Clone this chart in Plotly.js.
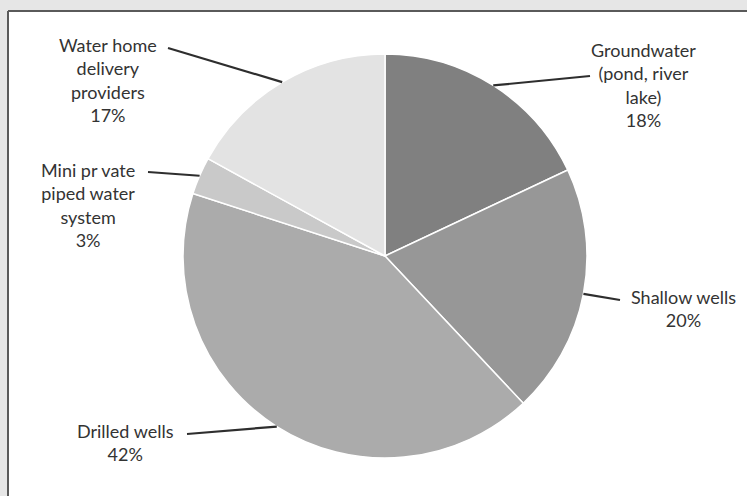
<!DOCTYPE html>
<html>
<head>
<meta charset="utf-8">
<script src="https://cdn.plot.ly/plotly-3.0.1.min.js"></script>
<style>html,body{margin:0;padding:0;background:#fff;overflow:hidden;}#chart{width:747px;height:496px;overflow:hidden;}</style>
</head>
<body>
<div id="chart"></div>
<script>
// ---- data ----
var categories = [
  "Groundwater (pond, river lake)",
  "Shallow wells",
  "Drilled wells",
  "Mini private piped water system",
  "Water home delivery providers"
];
var labelTexts = [
  "Groundwater<br>(pond, river<br>lake)",
  "Shallow wells",
  "Drilled wells",
  "Mini pr vate<br>piped water<br>system",
  "Water home<br>delivery<br>providers"
];
var shares = [18, 20, 42, 3, 17];
var sliceColors = ["#808080", "#979797", "#ababab", "#c9c9c9", "#e3e3e3"];

// ---- layout geometry (pixels) ----
var W = 747, H = 496;
var cx = 385, cy = 256, R = 202;
// label block centres and leader-line start points
var labelPos = [
  {x: 643, y: 85, lx: 590, ly: 76},
  {x: 683, y: 308, lx: 620, ly: 300},
  {x: 125, y: 442, lx: 187, ly: 434},
  {x: 88,  y: 205, lx: 148, ly: 172},
  {x: 108, y: 80,  lx: 168, ly: 48}
];

function px(x){ return x / W; }
function py(y){ return 1 - y / H; }

var total = shares.reduce(function(a,b){return a+b;}, 0);

var trace = {
  type: "pie",
  values: shares,
  labels: categories,
  sort: false,
  direction: "clockwise",
  rotation: 0,
  textinfo: "none",
  hoverinfo: "label+percent",
  marker: {colors: sliceColors, line: {color: "#ffffff", width: 1.5}},
  domain: {x: [px(cx - R), px(cx + R)], y: [py(cy + R), py(cy - R)]},
  showlegend: false
};

var annotations = [];
var shapes = [
  {type: "rect", xref: "paper", yref: "paper", layer: "below",
   x0: -0.1, x1: 1.1, y0: py(11), y1: 1.1,
   fillcolor: "#e6e6e6", line: {width: 0}},
  {type: "rect", xref: "paper", yref: "paper", layer: "below",
   x0: -0.1, x1: px(8), y0: -0.1, y1: 1.1,
   fillcolor: "#e6e6e6", line: {width: 0}},
  {type: "line", xref: "paper", yref: "paper", layer: "below",
   x0: px(8), x1: 1.1, y0: py(11), y1: py(11),
   line: {color: "#5a5a5a", width: 2}},
  {type: "line", xref: "paper", yref: "paper", layer: "below",
   x0: px(8), x1: px(8), y0: -0.1, y1: py(11),
   line: {color: "#5a5a5a", width: 2}}
];

var cum = 0;
for (var i = 0; i < shares.length; i++) {
  var mid = (cum + shares[i] / 2) / total;
  cum += shares[i];
  var th = 2 * Math.PI * mid;
  var tx = cx + R * Math.sin(th);
  var ty = cy - R * Math.cos(th);
  var pct = Math.round(shares[i] / total * 100) + "%";
  var p = labelPos[i];
  annotations.push({
    xref: "paper", yref: "paper", x: px(p.x), y: py(p.y),
    xanchor: "center", yanchor: "middle", align: "center",
    text: labelTexts[i] + "<br>" + pct, showarrow: false,
    font: {family: "Lato, 'Open Sans', sans-serif", size: 18, color: "#333333"}
  });
  shapes.push({
    type: "line", xref: "paper", yref: "paper", layer: "above",
    x0: px(p.lx), y0: py(p.ly), x1: px(tx), y1: py(ty),
    line: {color: "#2e2e2e", width: 2.2}
  });
}

var layout = {
  width: W, height: H,
  margin: {l: 0, r: 0, t: 0, b: 0},
  paper_bgcolor: "#ffffff",
  plot_bgcolor: "#ffffff",
  showlegend: false,
  annotations: annotations,
  shapes: shapes
};

Plotly.newPlot("chart", [trace], layout, {displayModeBar: false, staticPlot: true});
</script>
</body>
</html>
